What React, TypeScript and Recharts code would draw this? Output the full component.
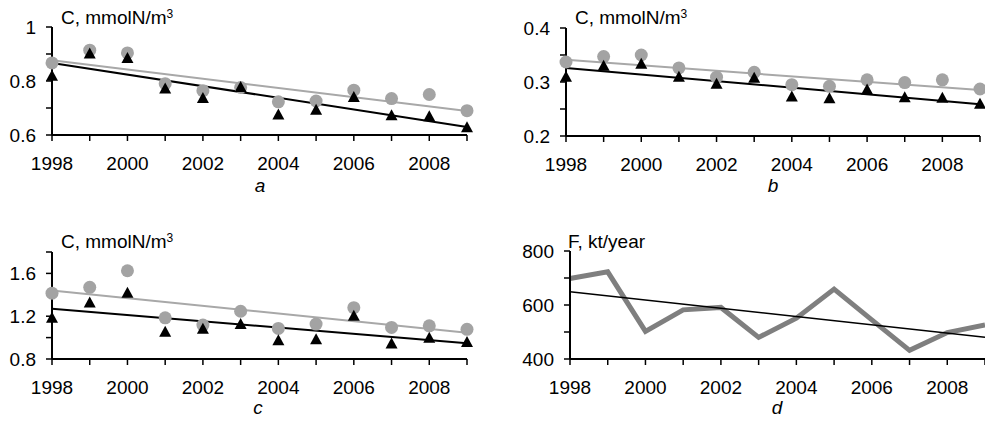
import React from 'react';
import { ComposedChart, XAxis, YAxis, Scatter, Line } from 'recharts';

const years = [1998, 1999, 2000, 2001, 2002, 2003, 2004, 2005, 2006, 2007, 2008, 2009];
const xTickLabels = ['1998', '', '2000', '', '2002', '', '2004', '', '2006', '', '2008', ''];

// Panel a
const aCircles = [0.867, 0.914, 0.904, 0.79, 0.764, 0.776, 0.723, 0.726, 0.766, 0.735, 0.75, 0.69];
const aTriangles = [0.818, 0.9, 0.883, 0.77, 0.735, 0.776, 0.674, 0.692, 0.739, 0.671, 0.668, 0.627];
const aTrendGray = [0.877, 0.689];
const aTrendBlack = [0.867, 0.63];
const aTicks = [0.6, 0.7, 0.8, 0.9, 1];
const aTickLabels = ['0.6', '', '0.8', '', '1'];

// Panel b
const bCircles = [0.337, 0.347, 0.35, 0.326, 0.309, 0.318, 0.295, 0.292, 0.304, 0.299, 0.304, 0.287];
const bTriangles = [0.309, 0.329, 0.333, 0.309, 0.296, 0.307, 0.272, 0.269, 0.285, 0.271, 0.27, 0.259];
const bTrendGray = [0.341, 0.285];
const bTrendBlack = [0.326, 0.259];
const bTicks = [0.2, 0.25, 0.3, 0.35, 0.4];
const bTickLabels = ['0.2', '', '0.3', '', '0.4'];

// Panel c
const cCircles = [1.415, 1.47, 1.625, 1.185, 1.117, 1.246, 1.086, 1.126, 1.28, 1.095, 1.11, 1.077];
const cTriangles = [1.18, 1.323, 1.415, 1.05, 1.077, 1.123, 0.97, 0.98, 1.2, 0.94, 0.994, 0.954];
const cTrendGray = [1.44, 1.046];
const cTrendBlack = [1.27, 0.948];
const cTicks = [0.8, 1.0, 1.2, 1.4, 1.6, 1.8];
const cTickLabels = ['0.8', '', '1.2', '', '1.6', ''];

// Panel d
const dFlux = [698, 723, 502, 582, 591, 480, 551, 659, 545, 432, 498, 526];
const dTrend = [649, 481];
const dTicks = [400, 500, 600, 700, 800];
const dTickLabels = ['400', '', '600', '', '800'];

const FONT = '"Liberation Sans", Arial, sans-serif';
const GRAY_DOT = '#a3a3a3';
const GRAY_LINE = '#a8a8a8';

const Circle = (props: any) => {
  const { cx, cy } = props;
  if (cx == null || cy == null) return null;
  return <circle cx={cx} cy={cy} r={6.5} fill={GRAY_DOT} />;
};

const Triangle = (props: any) => {
  const { cx, cy } = props;
  if (cx == null || cy == null) return null;
  return (
    <polygon
      points={`${cx},${cy - 6.5} ${cx - 6},${cy + 4.5} ${cx + 6},${cy + 4.5}`}
      fill="#000"
    />
  );
};

function buildRows(circles: number[] | null, tris: number[] | null, line: number[] | null, t1: number[], t2: number[] | null) {
  const last = years.length - 1;
  return years.map((y, i) => ({
    year: y,
    circle: circles ? circles[i] : null,
    tri: tris ? tris[i] : null,
    line: line ? line[i] : null,
    t1: i === 0 ? t1[0] : i === last ? t1[1] : null,
    t2: t2 ? (i === 0 ? t2[0] : i === last ? t2[1] : null) : null,
  }));
}

const tickStyle = { fill: '#000', fontSize: 19, fontFamily: FONT };

type PanelProps = {
  rows: any[];
  yTicks: number[];
  yLabels: string[];
  width: number;
  height: number;
  margin: { top: number; right: number; bottom: number; left: number };
  kind: 'scatter' | 'line';
};

const Panel = ({ rows, yTicks, yLabels, width, height, margin, kind }: PanelProps) => (
  <ComposedChart width={width} height={height} data={rows} margin={margin}>
    <XAxis
      dataKey="year"
      type="number"
      domain={[years[0], years[years.length - 1]]}
      ticks={years}
      interval={0}
      tickFormatter={(v: number, i: number) => xTickLabels[i] ?? ''}
      axisLine={{ stroke: '#000', strokeWidth: 2 }}
      tickLine={{ stroke: '#000', strokeWidth: 1.5 }}
      tickSize={6}
      tickMargin={16}
      tick={tickStyle}
      height={30}
    />
    <YAxis
      type="number"
      domain={[yTicks[0], yTicks[yTicks.length - 1]]}
      ticks={yTicks}
      interval={0}
      tickFormatter={(v: number, i: number) => yLabels[i] ?? ''}
      axisLine={{ stroke: '#000', strokeWidth: 2 }}
      tickLine={{ stroke: '#000', strokeWidth: 1.5 }}
      tickSize={6}
      tickMargin={10}
      tick={tickStyle}
      width={44}
      allowDataOverflow
    />
    {kind === 'scatter' && (
      <Scatter dataKey="circle" shape={Circle} isAnimationActive={false} />
    )}
    {kind === 'scatter' && (
      <Scatter dataKey="tri" shape={Triangle} isAnimationActive={false} />
    )}
    {kind === 'scatter' && (
      <Line dataKey="t1" stroke={GRAY_LINE} strokeWidth={2} dot={false} connectNulls isAnimationActive={false} />
    )}
    {kind === 'scatter' && (
      <Line dataKey="t2" stroke="#000" strokeWidth={2} dot={false} connectNulls isAnimationActive={false} />
    )}
    {kind === 'line' && (
      <Line dataKey="line" stroke="#7f7f7f" strokeWidth={5} dot={false} strokeLinejoin="miter" isAnimationActive={false} />
    )}
    {kind === 'line' && (
      <Line dataKey="t1" stroke="#000" strokeWidth={1.5} dot={false} connectNulls isAnimationActive={false} />
    )}
  </ComposedChart>
);

const textBase: React.CSSProperties = {
  position: 'absolute',
  fontFamily: FONT,
  fontSize: 19,
  lineHeight: '19px',
  color: '#000',
  whiteSpace: 'nowrap',
};

const Title = ({ left, top, children }: { left: number; top: number; children: React.ReactNode }) => (
  <div style={{ ...textBase, left, top }}>{children}</div>
);

const Sup = () => (
  <span style={{ fontSize: 12, verticalAlign: 'top', lineHeight: '12px', position: 'relative', top: 0 }}>3</span>
);

const PanelLetter = ({ cx, top, letter }: { cx: number; top: number; letter: string }) => (
  <div style={{ ...textBase, left: cx - 30, top, width: 60, textAlign: 'center', fontStyle: 'italic' }}>{letter}</div>
);

export default function App() {
  const rowsA = buildRows(aCircles, aTriangles, null, aTrendGray, aTrendBlack);
  const rowsB = buildRows(bCircles, bTriangles, null, bTrendGray, bTrendBlack);
  const rowsC = buildRows(cCircles, cTriangles, null, cTrendGray, cTrendBlack);
  const rowsD = buildRows(null, null, dFlux, dTrend, null);

  return (
    <div style={{ position: 'absolute', left: 0, top: 0, width: 985, height: 422, background: '#fff', overflow: 'hidden' }}>
      <div style={{ position: 'absolute', left: 0, top: 0 }}>
        <Panel rows={rowsA} yTicks={aTicks} yLabels={aTickLabels} width={490} height={210}
          margin={{ top: 27, right: 23, bottom: 45, left: 8 }} kind="scatter" />
      </div>
      <div style={{ position: 'absolute', left: 490, top: 0 }}>
        <Panel rows={rowsB} yTicks={bTicks} yLabels={bTickLabels} width={495} height={210}
          margin={{ top: 28, right: 5, bottom: 44, left: 32 }} kind="scatter" />
      </div>
      <div style={{ position: 'absolute', left: 0, top: 210 }}>
        <Panel rows={rowsC} yTicks={cTicks} yLabels={cTickLabels} width={490} height={212}
          margin={{ top: 42, right: 23, bottom: 33, left: 8 }} kind="scatter" />
      </div>
      <div style={{ position: 'absolute', left: 490, top: 210 }}>
        <Panel rows={rowsD} yTicks={dTicks} yLabels={dTickLabels} width={495} height={212}
          margin={{ top: 41, right: 0, bottom: 33, left: 36 }} kind="line" />
      </div>

      <Title left={61} top={8}>C, mmolN/m<Sup /></Title>
      <Title left={575} top={8}>C, mmolN/m<Sup /></Title>
      <Title left={61} top={232}>C, mmolN/m<Sup /></Title>
      <Title left={568} top={232}>F, kt/year</Title>

      <PanelLetter cx={260} top={176} letter="a" />
      <PanelLetter cx={773} top={176} letter="b" />
      <PanelLetter cx={258} top={398} letter="c" />
      <PanelLetter cx={777} top={398} letter="d" />
    </div>
  );
}
